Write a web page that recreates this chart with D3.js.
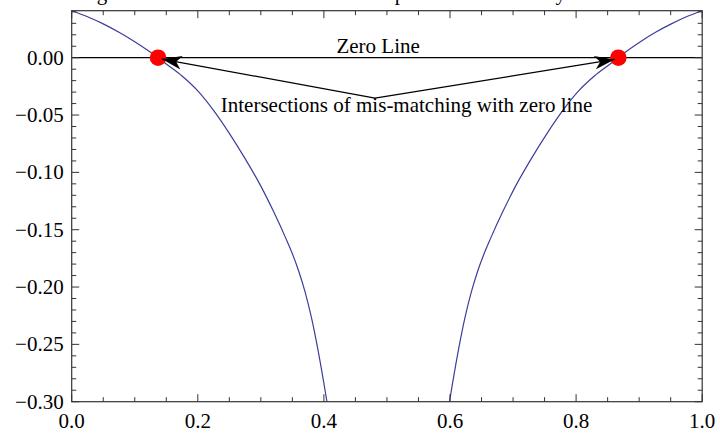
<!DOCTYPE html>
<html>
<head>
<meta charset="utf-8">
<script src="https://d3js.org/d3.v7.min.js"></script>
<style>
  html, body { margin: 0; padding: 0; background: #fff; }
  svg { display: block; font-family: "Liberation Serif", "Times New Roman", serif; }
</style>
</head>
<body>
<svg id="chart" width="720" height="437"></svg>
<script>
// Mis-matching function, left branch (below the singularity)
const leftX = [0.000, 0.025, 0.050, 0.075, 0.100, 0.125, 0.137, 0.150, 0.175, 0.200, 0.225, 0.250,
               0.275, 0.300, 0.320, 0.340, 0.350, 0.360, 0.370, 0.380, 0.390, 0.400, 0.406];
const leftY = [0.041, 0.0357, 0.0295, 0.0222, 0.0140, 0.0048, 0.0000, -0.0055, -0.016, -0.029, -0.046, -0.066,
               -0.088, -0.112, -0.134, -0.158, -0.171, -0.186, -0.204, -0.226, -0.253, -0.284, -0.304];

// Mis-matching function, right branch (above the singularity)
const rightX = [0.598, 0.604, 0.614, 0.624, 0.634, 0.644, 0.654, 0.664, 0.684, 0.704, 0.729, 0.754,
                0.779, 0.804, 0.829, 0.854, 0.867, 0.878, 0.902, 0.926, 0.951, 0.975, 1.000];
const rightY = [-0.304, -0.284, -0.253, -0.226, -0.204, -0.186, -0.171, -0.158, -0.134, -0.112, -0.088, -0.066,
                -0.046, -0.029, -0.016, -0.0055, 0.0000, 0.0048, 0.0140, 0.0222, 0.0295, 0.0357, 0.041];

// Roots of the mis-matching function
const rootX = [0.137, 0.867];
const rootY = [0, 0];

// Annotation anchors (data units)
const arrowFrom = [0.481, -0.0352];
const arrowTipX = [0.143, 0.861];
const arrowTipY = [-0.0012, -0.0015];
const zeroLabel = { text: "Zero Line", x: 0.486, y: 0.0044 };
const rootLabel = { text: "Intersections of mis-matching with zero line", x: 0.531, y: -0.0473 };
const titleText = "Eigenvalues found at the zeros of the plotted mismatch by bisection";

// Axis ticks
const xMajor = [0.0, 0.2, 0.4, 0.6, 0.8, 1.0];
const xMinor = [0.05, 0.10, 0.15, 0.25, 0.30, 0.35, 0.45, 0.50, 0.55, 0.65, 0.70, 0.75, 0.85, 0.90, 0.95];
const yMajor = [0.00, -0.05, -0.10, -0.15, -0.20, -0.25, -0.30];
const yMinor = [0.04, 0.03, 0.02, 0.01, -0.01, -0.02, -0.03, -0.04, -0.06, -0.07, -0.08, -0.09,
                -0.11, -0.12, -0.13, -0.14, -0.16, -0.17, -0.18, -0.19, -0.21, -0.22, -0.23, -0.24,
                -0.26, -0.27, -0.28, -0.29];

const svg = d3.select("#chart");
const pL = 71.7, pR = 702.2, pT = 10.7, pB = 401.7;

const x = d3.scaleLinear().domain([0, 1]).range([pL, pR]);
const y = d3.scaleLinear().domain([-0.30, 0.041]).range([pB, pT]);

const frameColor = "#333";
const curveColor = "#3d3d9c";
const fontSize = 21;

// Title (sits above the top edge of the canvas)
svg.append("text")
  .attr("x", 78).attr("y", 0)
  .attr("font-size", fontSize)
  .attr("fill", "#000")
  .text(titleText);

const defs = svg.append("defs");
defs.append("clipPath").attr("id", "plotClip")
  .append("rect")
  .attr("x", pL).attr("y", pT)
  .attr("width", pR - pL).attr("height", pB - pT);

const plot = svg.append("g").attr("clip-path", "url(#plotClip)");

const line = d3.line()
  .x(d => x(d[0]))
  .y(d => y(d[1]))
  .curve(d3.curveMonotoneX);

plot.append("path")
  .datum(d3.zip(leftX, leftY))
  .attr("d", line)
  .attr("fill", "none")
  .attr("stroke", curveColor)
  .attr("stroke-width", 1.2);

plot.append("path")
  .datum(d3.zip(rightX, rightY))
  .attr("d", line)
  .attr("fill", "none")
  .attr("stroke", curveColor)
  .attr("stroke-width", 1.2);

// Zero line
plot.append("line")
  .attr("x1", x(0)).attr("x2", x(1))
  .attr("y1", y(0)).attr("y2", y(0))
  .attr("stroke", "#000")
  .attr("stroke-width", 1.3);

// Root markers
plot.selectAll("circle.root")
  .data(d3.zip(rootX, rootY))
  .join("circle")
  .attr("class", "root")
  .attr("cx", d => x(d[0]))
  .attr("cy", d => y(d[1]))
  .attr("r", 8.3)
  .attr("fill", "#ff0000");

// Arrows from the label to each root
defs.append("marker")
  .attr("id", "dart")
  .attr("viewBox", "-22 -8 24 16")
  .attr("refX", 0).attr("refY", 0)
  .attr("markerUnits", "userSpaceOnUse")
  .attr("markerWidth", 24).attr("markerHeight", 16)
  .attr("orient", "auto")
  .append("path")
  .attr("d", "M0,0 L-20,-6.8 L-14.5,0 L-20,6.8 Z")
  .attr("fill", "#000");

svg.append("g").selectAll("line.arrow")
  .data(d3.zip(arrowTipX, arrowTipY))
  .join("line")
  .attr("class", "arrow")
  .attr("x1", x(arrowFrom[0])).attr("y1", y(arrowFrom[1]))
  .attr("x2", d => x(d[0])).attr("y2", d => y(d[1]))
  .attr("stroke", "#000")
  .attr("stroke-width", 1.3)
  .attr("marker-end", "url(#dart)");

// Annotation labels
[zeroLabel, rootLabel].forEach(l => {
  svg.append("text")
    .attr("x", x(l.x)).attr("y", y(l.y))
    .attr("text-anchor", "middle")
    .attr("font-size", fontSize)
    .attr("fill", "#000")
    .text(l.text);
});

// Frame
svg.append("rect")
  .attr("x", pL).attr("y", pT)
  .attr("width", pR - pL).attr("height", pB - pT)
  .attr("fill", "none")
  .attr("stroke", frameColor)
  .attr("stroke-width", 1.2);

const ticks = svg.append("g").attr("stroke", frameColor).attr("stroke-width", 1);
const majLen = 7.5, minLen = 4.5;

// Bottom and top frame ticks (pointing inward)
[[xMajor, majLen], [xMinor, minLen]].forEach(([vals, len]) => {
  vals.forEach(v => {
    ticks.append("line").attr("x1", x(v)).attr("x2", x(v)).attr("y1", pB).attr("y2", pB - len);
    ticks.append("line").attr("x1", x(v)).attr("x2", x(v)).attr("y1", pT).attr("y2", pT + len);
  });
});
// Left and right frame ticks (pointing inward)
[[yMajor, majLen], [yMinor, minLen]].forEach(([vals, len]) => {
  vals.forEach(v => {
    ticks.append("line").attr("y1", y(v)).attr("y2", y(v)).attr("x1", pL).attr("x2", pL + len);
    ticks.append("line").attr("y1", y(v)).attr("y2", y(v)).attr("x1", pR).attr("x2", pR - len);
  });
});

// Tick labels
const fx = d3.format(".1f");
const fy = d3.format(".2f");

svg.append("g").selectAll("text")
  .data(xMajor)
  .join("text")
  .attr("x", d => x(d))
  .attr("y", pB + 26.5)
  .attr("text-anchor", "middle")
  .attr("font-size", fontSize)
  .attr("fill", "#000")
  .text(d => fx(d));

svg.append("g").selectAll("text")
  .data(yMajor)
  .join("text")
  .attr("x", pL - 8)
  .attr("y", d => y(d) + 7)
  .attr("text-anchor", "end")
  .attr("font-size", fontSize)
  .attr("fill", "#000")
  .text(d => fy(d));
</script>
</body>
</html>
